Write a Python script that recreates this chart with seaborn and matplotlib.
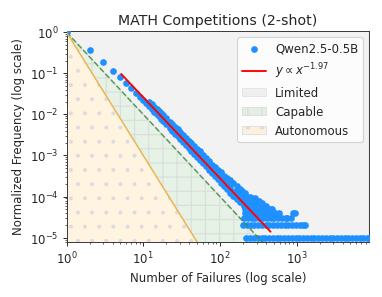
import numpy as np
import matplotlib
matplotlib.use("Agg")
import matplotlib.pyplot as plt
import seaborn as sns

# ---------------- data ----------------
title = "MATH Competitions (2-shot)"
model_label = "Qwen2.5-0.5B"
fit_exponent = 1.97
fit_coef = 2.43
fit_x_range = [5.15, 457]

# first few failure counts (distinct points)
head_x = [1, 2, 3, 4, 5, 6, 7, 8, 9, 10, 11]
head_y = [1.0, 0.37, 0.19, 0.115, 0.080, 0.057, 0.043, 0.034, 0.027, 0.022, 0.0185]

# dense diagonal band: lower edge, middle, upper edge
band_x = [12, 13, 14, 15, 16, 17, 18, 20, 22, 24, 26, 28, 30, 33, 36, 39, 42,
          46, 50, 55, 60, 66, 72, 79, 86, 94, 103, 113, 124, 136, 150, 165, 180]
band_y_lo = [0.0158, 0.0135, 0.0116, 0.0101, 0.0089, 0.0079, 0.0070, 0.0057,
             0.0047, 0.0040, 0.0034, 0.0029, 0.0025, 0.0021, 0.00178, 0.00153,
             0.00132, 0.00110, 0.00093, 0.00078, 0.00065, 0.00054, 0.00045,
             0.00038, 0.00032, 0.00027, 0.00022, 0.00018, 0.00015, 0.000125,
             0.000105, 8.8e-5, 7.4e-5]
band_y_mid = [0.0191, 0.0163, 0.0141, 0.0123, 0.0108, 0.0096, 0.0086, 0.0070,
              0.0058, 0.0049, 0.0042, 0.0036, 0.0031, 0.0026, 0.0022, 0.00188,
              0.00162, 0.00135, 0.00114, 0.00095, 0.00080, 0.00067, 0.00056,
              0.00047, 0.00039, 0.00033, 0.00028, 0.00023, 0.00019, 0.00016,
              0.00013, 0.00011, 9.2e-5]
band_y_hi = [0.0205, 0.0178, 0.0154, 0.0136, 0.0121, 0.0108, 0.0098, 0.0080,
             0.0067, 0.0057, 0.0049, 0.0043, 0.0038, 0.0032, 0.0027, 0.0023,
             0.0020, 0.0017, 0.00145, 0.00128, 0.00103, 0.00085, 0.00072,
             0.00060, 0.00052, 0.00045, 0.00039, 0.00032, 0.00028, 0.00025,
             0.00021, 0.00018, 0.00015]

# tail: discrete count levels (normalized frequency = count * 1e-5)
unit_freq = 1e-5
lvl1_x = [221, 248, 278, 311, 348, 390, 437, 489, 548, 614, 688, 770, 863, 966,
          1082, 1212, 1358, 1521, 1703, 1908, 2137, 2393, 2680, 3002, 3362,
          3766, 4218, 4724, 5291, 5926, 6637, 7433, 8325, 8800]
lvl2_x = [200, 224, 251, 281, 315, 353, 395, 442, 495, 555, 621, 696, 779, 873,
          978, 1095, 1226, 1300]
lvl3_x = [206, 231, 259, 290, 325, 364, 407, 456, 511, 572, 641, 718, 752, 840]
lvl4_x = [212, 237, 266, 298, 333, 373, 418, 468, 524, 590, 900, 944]
lvl5_x = [212, 237, 266, 298, 333, 373, 418, 468, 480]
lvl6_x = [208, 233, 261, 292, 327, 366, 400]
lvl7_x = [200, 224, 251, 281, 315, 355]
lvl8_x = [192, 215, 241, 270, 302, 320]
lvl9_x = [185, 207, 232, 260, 285]
lvl10_x = [178, 199, 223, 250]
lvl12_x = [168, 188, 210]
lvl14_x = [160, 179, 195]
tail_counts = [1, 2, 3, 4, 5, 6, 7, 8, 9, 10, 12, 14]
tail_x_lists = [lvl1_x, lvl2_x, lvl3_x, lvl4_x, lvl5_x, lvl6_x, lvl7_x,
                lvl8_x, lvl9_x, lvl10_x, lvl12_x, lvl14_x]

# region boundary exponents
capable_exp = 2
autonomous_exp = 3
x_max = 8800
y_min, y_max = 8e-6, 1.05

# ---------------- assemble ----------------
xs = list(head_x) + band_x * 3
ys = list(head_y) + band_y_lo + band_y_mid + band_y_hi
for c, lx in zip(tail_counts, tail_x_lists):
    xs += lx
    ys += [c * unit_freq] * len(lx)

# ---------------- plot ----------------
sns.set_style("ticks")
plt.rcParams["font.family"] = ["DejaVu Sans"]
plt.rcParams["hatch.linewidth"] = 1.0
fig = plt.figure(figsize=(4.5, 3.5), dpi=85)
ax = fig.add_axes([0.174, 0.186, 0.791, 0.707])
ax.set_xscale("log")
ax.set_yscale("log")

xb = np.geomspace(1, x_max, 200)
y_cap = xb ** (-capable_exp)
y_aut = xb ** (-autonomous_exp)

ax.fill_between(xb, y_cap, 10, facecolor=(0.83, 0.83, 0.83, 0.3),
                edgecolor=(0.8, 0.8, 0.8, 0.4), linewidth=0.8,
                label="Limited", zorder=1)
ax.fill_between(xb, y_aut, y_cap, facecolor=(0.0, 0.5, 0.0, 0.1),
                edgecolor=(0.85, 0.86, 0.86, 0.85), hatch="+", linewidth=0.8,
                label="Capable", zorder=1)
ax.fill_between(xb, 1e-12, y_aut, facecolor=(1.0, 0.65, 0.0, 0.12),
                edgecolor=(0.84, 0.84, 0.87, 0.75), hatch=".", linewidth=0.8,
                label="Autonomous", zorder=1)

sns.scatterplot(x=xs, y=ys, ax=ax, color="#1e90ff", s=32, linewidth=0,
                label=model_label, zorder=3)

ax.plot(xb, y_cap, "--", color="#3a8a3a", alpha=0.8, lw=1.3, zorder=4)
ax.plot(xb, y_aut, "-", color="#f0b040", alpha=0.9, lw=1.2, zorder=4)

fx = np.array(fit_x_range)
sns.lineplot(x=fx, y=fit_coef * fx ** (-fit_exponent), ax=ax, color="red",
             lw=1.6, label=r"$y \propto x^{-1.97}$", zorder=5)

ax.set_xlim(1, x_max)
ax.set_ylim(y_min, y_max)
ax.set_title(title, fontsize=12)
ax.set_xlabel("Number of Failures (log scale)", fontsize=10)
ax.set_ylabel("Normalized Frequency (log scale)", fontsize=10)
for s in ax.spines.values():
    s.set_color("#333333")

h, l = ax.get_legend_handles_labels()
order = [l.index(model_label), l.index(r"$y \propto x^{-1.97}$"),
         l.index("Limited"), l.index("Capable"), l.index("Autonomous")]
ax.legend([h[i] for i in order], [l[i] for i in order], loc="upper right",
          fontsize=10)

fig.savefig("out.png", dpi=85)
